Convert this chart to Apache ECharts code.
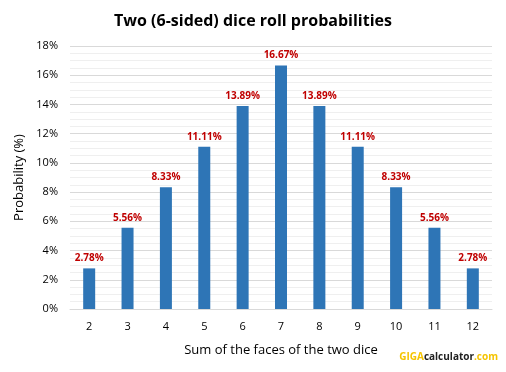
<!DOCTYPE html>
<html><head><meta charset="utf-8">
<script src="https://cdn.jsdelivr.net/npm/echarts@6/dist/echarts.min.js"></script>
<style>html,body{margin:0;padding:0;background:#fff}#c{width:506px;height:372px}</style>
</head><body><div id="c"></div>
<script>
const categories = ['2','3','4','5','6','7','8','9','10','11','12'];
const probabilities = [2.78, 5.56, 8.33, 11.11, 13.89, 16.67, 13.89, 11.11, 8.33, 5.56, 2.78];
const yTicks = [0, 2, 4, 6, 8, 10, 12, 14, 16, 18];

const chart = echarts.init(document.getElementById('c'), null, {renderer: 'canvas'});
const font = '"Open Sans", "Liberation Sans", sans-serif';
chart.setOption({
  animation: false,
  backgroundColor: '#fff',
  title: {
    text: 'Two (6-sided) dice roll probabilities',
    left: 'center', top: 8,
    textStyle: {fontFamily: font, fontSize: 16, fontWeight: 'bold', color: '#000'}
  },
  grid: {left: 70, right: 14, top: 46, bottom: 63},
  xAxis: {
    type: 'category', data: categories,
    name: 'Sum of the faces of the two dice', nameLocation: 'middle', nameGap: 35,
    nameTextStyle: {fontFamily: font, fontSize: 13, color: '#000'},
    axisLine: {show: true, lineStyle: {color: '#d9d9d9'}},
    axisTick: {show: false},
    axisLabel: {fontFamily: font, fontSize: 11, color: '#000', margin: 12}
  },
  yAxis: {
    type: 'value', min: 0, max: 18, interval: 2,
    name: 'Probability (%)', nameLocation: 'middle', nameGap: 42, nameRotate: 90,
    nameTextStyle: {fontFamily: font, fontSize: 13, color: '#000'},
    axisLine: {show: false}, axisTick: {show: false},
    axisLabel: {fontFamily: font, fontSize: 11, color: '#000', margin: 12,
      formatter: v => yTicks.includes(v) ? v + '%' : ''},
    splitLine: {show: true, lineStyle: {color: '#d9d9d9', width: 1}},
    minorTick: {show: false, splitNumber: 4},
    minorSplitLine: {show: true, lineStyle: {color: '#efefef', width: 1}}
  },
  series: [{
    type: 'bar', data: probabilities, barWidth: 12,
    itemStyle: {color: '#2e75b6'},
    label: {show: true, position: 'top', distance: 5,
      formatter: p => p.value.toFixed(2) + '%',
      fontFamily: font, fontSize: 10, fontWeight: 'bold', color: '#c00000'}
  }],
  graphic: [{
    type: 'text', right: 8, top: 352,
    style: {
      text: '{y|GIGA}{d|calculator}{y|.com}',
      rich: {
        y: {fontFamily: font, fontSize: 10, fontWeight: 'bold', fill: '#f5c400'},
        d: {fontFamily: font, fontSize: 10, fontWeight: 'bold', fill: '#222'}
      }
    }
  }]
});
</script></body></html>
